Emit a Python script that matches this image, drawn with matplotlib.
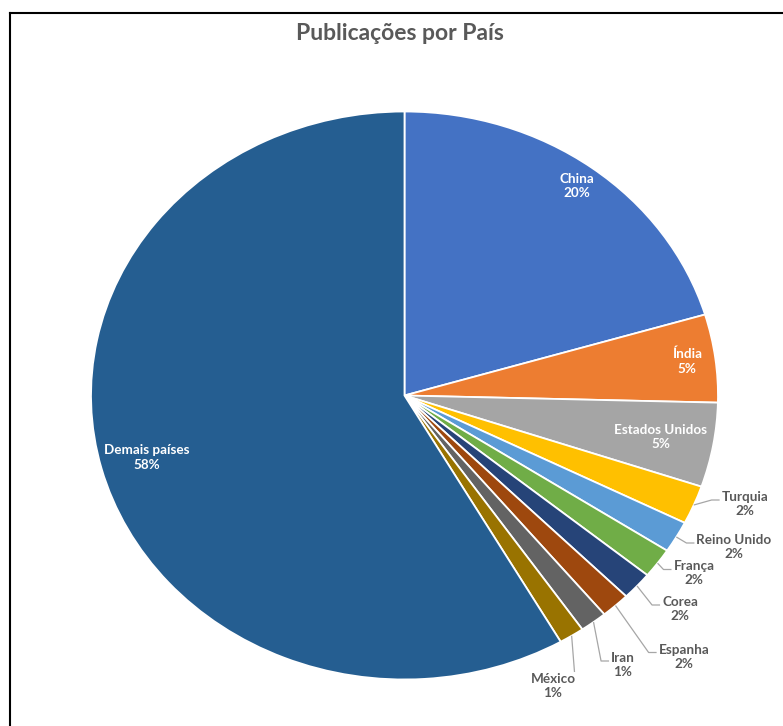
import math
import matplotlib
matplotlib.use("Agg")
import matplotlib.pyplot as plt
from matplotlib.lines import Line2D

# Publication share by country (percent)
countries = ["China", "Índia", "Estados Unidos", "Turquia", "Reino Unido",
             "França", "Corea", "Espanha", "Iran", "México", "Demais países"]
shares = [20.4, 5.0, 4.8, 2.2, 1.8, 1.7, 1.6, 1.5, 1.4, 1.3, 58.3]
colors = ["#4472C4", "#ED7D31", "#A5A5A5", "#FFC000", "#5B9BD5", "#70AD47",
          "#264478", "#9E480E", "#636363", "#997300", "#255E91"]
title = "Publicações por País"

W, H = 783, 726
DPI = 100
CX, CY = 404.5, 395.5      # pie centre in pixels (from top-left)
RX, RY = 313.5, 284.0      # horizontal / vertical radius in pixels

fig = plt.figure(figsize=(W / DPI, H / DPI), dpi=DPI)
ax = fig.add_axes([0, 0, 1, 1])

wedges, _ = ax.pie(shares, colors=colors, startangle=90, counterclock=False,
                   wedgeprops=dict(edgecolor="white", linewidth=1.3))
ax.set_aspect("auto")
ax.set_xlim(-CX / RX, (W - CX) / RX)
ax.set_ylim((CY - H) / RY, CY / RY)
ax.axis("off")

FONT = ["Lato", "DejaVu Sans"]
LABEL_SIZE = 9.7
total = sum(shares)


def pct_text(v):
    return f"{math.floor(v / total * 100 + 0.5 + 1e-9)}%"


def mid_angle(w):
    return math.radians((w.theta1 + w.theta2) / 2)


def px_to_data(px, py):
    return (px - CX) / RX, (CY - py) / RY


# labels placed inside the larger slices
inside = {"China": 0.92, "Índia": 0.91, "Estados Unidos": 0.83, "Demais países": 0.85}
for w, name, v in zip(wedges, countries, shares):
    if name in inside:
        a = mid_angle(w)
        r = inside[name]
        ax.text(r * math.cos(a), r * math.sin(a), f"{name}\n{pct_text(v)}",
                ha="center", va="center", color="white", fontsize=LABEL_SIZE,
                fontweight="bold", family=FONT, linespacing=1.25)

# labels outside the small slices, with leader lines (text centre in pixels)
outside = {
    "Turquia": (745, 504, "left"),
    "Reino Unido": (734, 547, "left"),
    "França": (694, 573.5, "left"),
    "Corea": (680, 609, "left"),
    "Espanha": (684, 656.5, "left"),
    "Iran": (623, 665, "left"),
    "México": (553, 686, "top"),
}
texts = []
for w, name, v in zip(wedges, countries, shares):
    if name in outside:
        tx, ty, mode = outside[name]
        x, y = px_to_data(tx, ty)
        t = ax.text(x, y, f"{name}\n{pct_text(v)}", ha="center", va="center",
                    color="#595959", fontsize=LABEL_SIZE, fontweight="bold",
                    family=FONT, linespacing=1.2)
        texts.append((w, t, mode))

fig.canvas.draw()
renderer = fig.canvas.get_renderer()
inv = ax.transData.inverted()
for w, t, mode in texts:
    bb = t.get_window_extent(renderer)
    a = mid_angle(w)
    x0, y0 = math.cos(a), math.sin(a)
    if mode == "left":
        # horizontal end just left of the text, slightly above its centre
        ex, ey = inv.transform((bb.x0 - 2, (bb.y0 + bb.y1) / 2 + 4))
        kx, _ = inv.transform((bb.x0 - 10, 0))
        xs, ys = [x0, kx, ex], [y0, ey, ey]
    else:
        ex, ey = inv.transform((bb.x1 - 1, bb.y1 + 1))
        xs, ys = [x0, ex], [y0, ey]
    ax.plot(xs, ys, color="#A6A6A6", linewidth=0.9, solid_capstyle="butt")

fig.text(400 / W, 1 - 34 / H, title, ha="center", va="center",
         fontsize=16.5, fontweight="bold", color="#595959", family=FONT)

# chart area border (left and top edges)
fig.add_artist(Line2D([9.5 / W, 9.5 / W], [0, 1 - 12.5 / H],
                      transform=fig.transFigure, color="black", linewidth=1.5))
fig.add_artist(Line2D([9.5 / W, 1], [1 - 12.5 / H, 1 - 12.5 / H],
                      transform=fig.transFigure, color="black", linewidth=1.5))

fig.savefig("out.png", dpi=DPI, facecolor="white")
